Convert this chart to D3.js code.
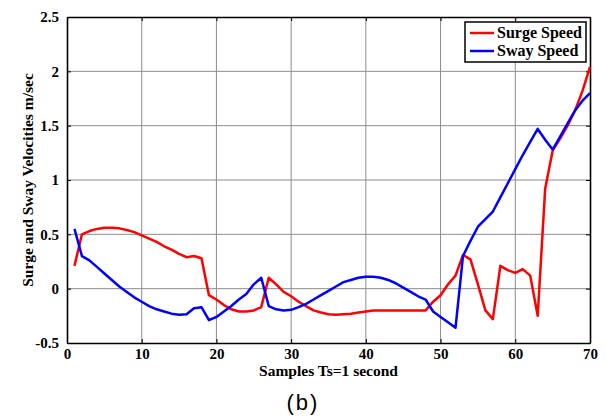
<!DOCTYPE html>
<html><head><meta charset="utf-8">
<script src="https://cdn.jsdelivr.net/npm/d3@7"></script>
<style>body{margin:0;background:#fff}svg{display:block}</style>
</head><body>
<script>
const samples = d3.range(1, 71);
const surgeSpeed = [0.21,0.50,0.53,0.55,0.56,0.56,0.555,0.54,0.52,0.49,0.46,0.43,0.39,0.36,0.32,0.29,0.30,0.28,-0.06,-0.10,-0.15,-0.19,-0.21,-0.21,-0.20,-0.17,0.10,0.04,-0.03,-0.07,-0.12,-0.16,-0.20,-0.22,-0.235,-0.24,-0.235,-0.23,-0.22,-0.21,-0.20,-0.20,-0.20,-0.20,-0.20,-0.20,-0.20,-0.20,-0.12,-0.06,0.04,0.12,0.31,0.27,0.04,-0.20,-0.28,0.21,0.17,0.145,0.18,0.12,-0.25,0.92,1.27,1.38,1.50,1.64,1.82,2.04];
const swaySpeed = [0.55,0.30,0.26,0.20,0.14,0.08,0.02,-0.03,-0.08,-0.12,-0.16,-0.19,-0.21,-0.23,-0.24,-0.235,-0.18,-0.17,-0.29,-0.26,-0.21,-0.16,-0.10,-0.05,0.04,0.10,-0.16,-0.19,-0.20,-0.195,-0.17,-0.14,-0.10,-0.06,-0.02,0.02,0.06,0.08,0.10,0.11,0.11,0.10,0.08,0.05,0.01,-0.03,-0.07,-0.10,-0.21,-0.26,-0.31,-0.36,0.30,0.44,0.57,0.64,0.71,0.84,0.97,1.10,1.23,1.35,1.47,1.37,1.28,1.40,1.52,1.64,1.73,1.80];
const xTicks = [0,10,20,30,40,50,60,70];
const yTicks = [-0.5,0,0.5,1,1.5,2,2.5];
const yTickLabels = ["-0.5","0","0.5","1","1.5","2","2.5"];
const seriesNames = ["Surge Speed","Sway Speed"];
const seriesColors = ["#ff0000","#0000ff"];

const W = 606, H = 419;
const m = {left:67, right:16, top:17, bottom:76};
const svg = d3.select("body").append("svg").attr("width",W).attr("height",H);
const x = d3.scaleLinear().domain([0,70]).range([m.left, W-m.right]);
const y = d3.scaleLinear().domain([-0.5,2.5]).range([H-m.bottom, m.top]);
const font = "'Liberation Serif','Times New Roman',serif";

// grid
const g = svg.append("g");
g.selectAll(".vg").data(xTicks.slice(1,-1)).enter().append("line")
  .attr("x1",d=>x(d)).attr("x2",d=>x(d)).attr("y1",y(-0.5)).attr("y2",y(2.5))
  .attr("stroke","#8c8c8c").attr("stroke-width",1);
g.selectAll(".hg").data(yTicks.slice(1,-1)).enter().append("line")
  .attr("y1",d=>y(d)).attr("y2",d=>y(d)).attr("x1",x(0)).attr("x2",x(70))
  .attr("stroke","#8c8c8c").attr("stroke-width",1);

// axes
const xAxis = d3.axisBottom(x).tickValues(xTicks).tickSizeInner(-4).tickSizeOuter(0).tickPadding(8).tickFormat(d3.format("d"));
const yAxis = d3.axisLeft(y).tickValues(yTicks).tickSizeInner(-4).tickSizeOuter(0).tickPadding(8).tickFormat((d,i)=>yTickLabels[i]);
const ax = svg.append("g").attr("transform",`translate(0,${y(-0.5)})`).call(xAxis);
const ay = svg.append("g").attr("transform",`translate(${x(0)},0)`).call(yAxis);
const axTop = svg.append("g").attr("transform",`translate(0,${y(2.5)})`).call(d3.axisTop(x).tickValues(xTicks).tickSizeInner(-4).tickSizeOuter(0).tickFormat(""));
const ayR = svg.append("g").attr("transform",`translate(${x(70)},0)`).call(d3.axisRight(y).tickValues(yTicks).tickSizeInner(-4).tickSizeOuter(0).tickFormat(""));
[ax,ay,axTop,ayR].forEach(a=>{
  a.attr("font-family",null).attr("font-size",null);
  a.select(".domain").attr("stroke","#000").attr("stroke-width",1.6);
  a.selectAll(".tick line").attr("stroke","#000");
  a.selectAll("text").style("font-family",font).style("font-weight","bold").style("font-size","15px").attr("fill","#000");
});
ax.selectAll("text").attr("dy","0.5em");

// lines
const line = d3.line().x((d,i)=>x(samples[i])).y(d=>y(d));
[surgeSpeed, swaySpeed].forEach((s,k)=>{
  svg.append("path").datum(s).attr("d",line).attr("fill","none")
    .attr("stroke",seriesColors[k]).attr("stroke-width",2.5).attr("stroke-linejoin","round");
});

// labels
svg.append("text").attr("x",(x(0)+x(70))/2).attr("y",376).attr("text-anchor","middle")
  .style("font-family",font).style("font-weight","bold").style("font-size","15.5px").text("Samples Ts=1 second");
svg.append("text").attr("transform",`translate(33,${(y(-0.5)+y(2.5))/2}) rotate(-90)`).attr("text-anchor","middle")
  .style("font-family",font).style("font-weight","bold").style("font-size","15.5px").text("Surge and Sway Velocities m/sec");
svg.append("text").attr("x",303).attr("y",410).attr("text-anchor","middle")
  .style("font-family","'Liberation Sans','Open Sans',sans-serif").style("font-size","22px")
  .style("letter-spacing","2px").text("(b)");

// legend
const lg = svg.append("g");
lg.append("rect").attr("x",465).attr("y",22).attr("width",121).attr("height",40)
  .attr("fill","#fff").attr("stroke","#000").attr("stroke-width",1.5);
seriesNames.forEach((n,k)=>{
  const yy = 33 + k*18;
  lg.append("line").attr("x1",470).attr("x2",494).attr("y1",yy).attr("y2",yy)
    .attr("stroke",seriesColors[k]).attr("stroke-width",2.5);
  lg.append("text").attr("x",497).attr("y",yy+5).style("font-family",font).style("font-weight","bold")
    .style("font-size","16px").text(n);
});
</script>
</body></html>
